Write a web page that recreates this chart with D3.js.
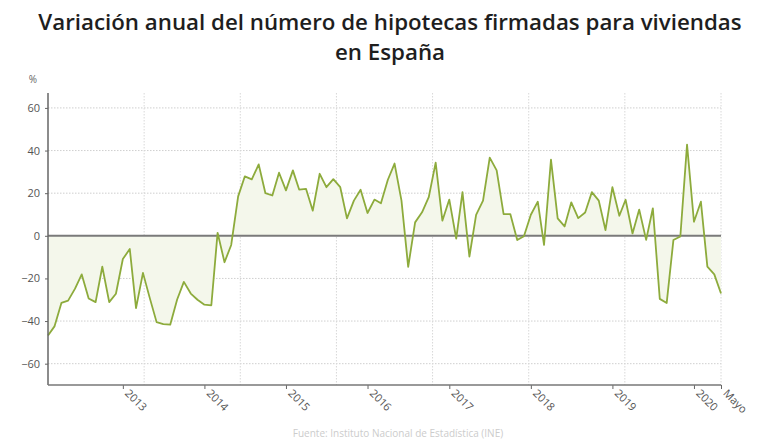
<!DOCTYPE html>
<html>
<head>
<meta charset="utf-8">
<script src="https://cdn.jsdelivr.net/npm/d3@7"></script>
<style>
  html, body { margin: 0; padding: 0; background: #fff; }
  svg { display: block; font-family: "Open Sans", "Noto Sans", sans-serif; }
</style>
</head>
<body>
<svg id="chart" width="780" height="440"></svg>
<script>
// ---- Data ----
const titleLines = ["Variación anual del número de hipotecas firmadas para viviendas", "en España"];
const startMonth = [2012, 1]; // February 2012 (month index 1)
const values = [
  // 2012 (Feb-Dec)
  -46.8, -42.5, -31.5, -30.4, -24.8, -18.1, -29.4, -31.1, -14.5, -31.1, -27.2,
  // 2013
  -10.9, -6.2, -33.9, -17.4, -29.0, -40.5, -41.4, -41.7, -29.9, -21.6, -27.1, -30.0,
  // 2014
  -32.3, -32.6, 1.4, -12.4, -4.3, 18.5, 27.9, 26.5, 33.5, 20.0, 18.9, 29.6,
  // 2015
  21.3, 30.7, 21.7, 22.0, 11.8, 29.1, 22.8, 26.6, 22.8, 8.2, 16.5, 21.6,
  // 2016
  10.7, 17.0, 15.3, 26.3, 33.9, 16.5, -14.6, 6.3, 11.0, 18.1, 34.3, 7.1,
  // 2017
  17.0, -1.3, 20.5, -9.8, 9.8, 16.5, 36.7, 30.7, 10.2, 10.2, -2.0, -0.2,
  // 2018
  9.9, 16.0, -4.3, 35.7, 8.2, 4.4, 15.7, 8.3, 10.9, 20.5, 16.5, 2.7,
  // 2019
  22.8, 9.4, 16.9, 1.1, 12.3, -1.9, 12.9, -29.6, -31.5, -2.0, -0.3, 42.8,
  // 2020 (Jan-May)
  6.6, 16.0, -14.5, -18.1, -27.1
];
const yTicks = [-60, -40, -20, 0, 20, 40, 60];
const yearTicks = [2013, 2014, 2015, 2016, 2017, 2018, 2019, 2020];
const endLabel = "Mayo";
const unitLabel = "%";
const sourceText = "Fuente: Instituto Nacional de Estadística (INE)";

// ---- Build ----
const data = values.map((v, i) => ({ date: new Date(startMonth[0], startMonth[1] + i, 1), value: v }));

const svg = d3.select("#chart");
const W = 780, H = 440;
const plot = { left: 48, right: 721, top: 93, bottom: 385 };

const x = d3.scaleTime()
  .domain([data[0].date, data[data.length - 1].date])
  .range([plot.left, plot.right]);
const y = d3.scaleLinear()
  .domain([-70, 67])
  .range([plot.bottom, plot.top]);

// Title
svg.append("g").selectAll("text").data(titleLines).join("text")
  .attr("x", W / 2)
  .attr("y", (d, i) => 29.5 + i * 30)
  .attr("text-anchor", "middle")
  .attr("font-size", 22.3)
  .attr("font-weight", 600)
  .attr("fill", "#1e1e1e")
  .text(d => d);

// Unit label
svg.append("text")
  .attr("x", 33).attr("y", 83)
  .attr("text-anchor", "middle")
  .attr("font-size", 10)
  .attr("fill", "#666")
  .text(unitLabel);

// Horizontal gridlines (dotted)
svg.append("g").selectAll("line").data(yTicks.filter(t => t !== 0)).join("line")
  .attr("x1", plot.left).attr("x2", plot.right)
  .attr("y1", d => y(d)).attr("y2", d => y(d))
  .attr("stroke", "#cfcfcf")
  .attr("stroke-width", 1)
  .attr("stroke-dasharray", "1.5,1.5");

// Vertical gridlines (dotted, 7 equal divisions)
const vGrid = d3.range(1, 8).map(k => plot.left + (plot.right - plot.left) * k / 7);
svg.append("g").selectAll("line").data(vGrid).join("line")
  .attr("x1", d => d).attr("x2", d => d)
  .attr("y1", plot.top).attr("y2", plot.bottom)
  .attr("stroke", "#d8d8d8")
  .attr("stroke-width", 1)
  .attr("stroke-dasharray", "1.5,1.5");

// Area fill between series and zero
const area = d3.area()
  .x(d => x(d.date))
  .y0(y(0))
  .y1(d => y(d.value));
svg.append("path")
  .datum(data)
  .attr("d", area)
  .attr("fill", "#f4f7eb")
  .attr("stroke", "none");

// Zero line
svg.append("line")
  .attr("x1", plot.left).attr("x2", plot.right)
  .attr("y1", y(0)).attr("y2", y(0))
  .attr("stroke", "#7a7a7a")
  .attr("stroke-width", 2);

// Series line
const line = d3.line()
  .x(d => x(d.date))
  .y(d => y(d.value));
svg.append("path")
  .datum(data)
  .attr("d", line)
  .attr("fill", "none")
  .attr("stroke", "#8dab3c")
  .attr("stroke-width", 1.8)
  .attr("stroke-linejoin", "round");

// Y axis
const yAxis = d3.axisLeft(y).tickValues(yTicks).tickSize(3).tickPadding(5);
const gy = svg.append("g")
  .attr("transform", `translate(${plot.left},0)`)
  .call(yAxis);
gy.select(".domain").remove();
gy.selectAll(".tick line").attr("stroke", "#666");
gy.selectAll(".tick text")
  .attr("font-size", 11)
  .attr("fill", "#555")
  .attr("font-family", "'Open Sans', 'Noto Sans', sans-serif");
svg.append("line")
  .attr("x1", plot.left).attr("x2", plot.left)
  .attr("y1", plot.top).attr("y2", plot.bottom)
  .attr("stroke", "#666")
  .attr("stroke-width", 1.5);

// X axis
const tickDates = yearTicks.map(yr => new Date(yr, 0, 1)).concat([data[data.length - 1].date]);
const tickLabels = yearTicks.map(String).concat([endLabel]);
const xAxis = d3.axisBottom(x)
  .tickValues(tickDates)
  .tickSize(4)
  .tickFormat((d, i) => tickLabels[i]);
const gx = svg.append("g")
  .attr("transform", `translate(0,${plot.bottom})`)
  .call(xAxis);
gx.select(".domain").remove();
gx.selectAll(".tick line").attr("stroke", "#666");
gx.selectAll(".tick text")
  .attr("font-size", 11)
  .attr("fill", "#555")
  .attr("font-family", "'Open Sans', 'Noto Sans', sans-serif")
  .attr("text-anchor", "start")
  .attr("dy", null)
  .attr("y", 0)
  .attr("transform", "translate(1,9) rotate(45)");
svg.append("line")
  .attr("x1", plot.left).attr("x2", plot.right)
  .attr("y1", plot.bottom).attr("y2", plot.bottom)
  .attr("stroke", "#777")
  .attr("stroke-width", 1.5);

// Source line at the bottom edge
svg.append("text")
  .attr("x", 398).attr("y", 437)
  .attr("text-anchor", "middle")
  .attr("font-size", 10)
  .attr("fill", "#cccccc")
  .text(sourceText);
</script>
</body>
</html>
